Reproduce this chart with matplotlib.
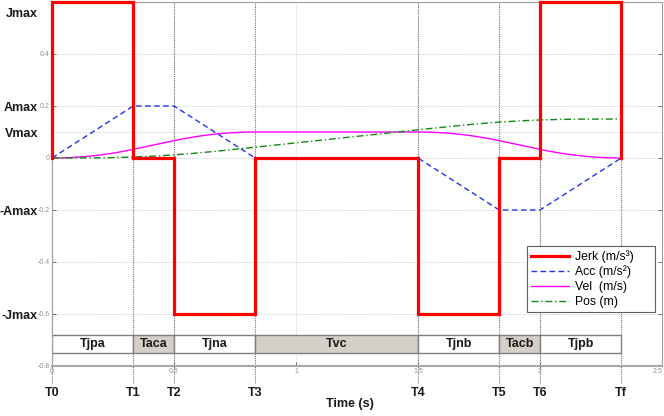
import matplotlib
matplotlib.use("Agg")
import matplotlib.pyplot as plt
from matplotlib.patches import Rectangle

plt.rcParams['font.family'] = ['Liberation Sans', 'DejaVu Sans']

# switching instants of the 7-segment S-curve profile
T_names = ['T0', 'T1', 'T2', 'T3', 'T4', 'T5', 'T6', 'Tf']
T_times = [0.0, 0.333, 0.5, 0.833, 1.5, 1.833, 2.0, 2.333]

# jerk held constant on each segment
jerk_levels = [0.6, 0.0, -0.6, 0.0, -0.6, 0.0, 0.6]

# acceleration at each switching instant (linear in between)
acc_at_T = [0.0, 0.2, 0.2, 0.0, 0.0, -0.2, -0.2, 0.0]

# velocity samples
vel_t = [0.0, 0.042, 0.083, 0.125, 0.167, 0.208, 0.25, 0.292, 0.333,
         0.5, 0.542, 0.583, 0.625, 0.667, 0.708, 0.75, 0.792, 0.833,
         1.5, 1.542, 1.583, 1.625, 1.667, 1.708, 1.75, 1.792, 1.833,
         2.0, 2.042, 2.083, 2.125, 2.167, 2.208, 2.25, 2.292, 2.333]
vel_v = [0.0, 0.0005, 0.0021, 0.0047, 0.0083, 0.013, 0.0188, 0.0255, 0.0333,
         0.0667, 0.0745, 0.0812, 0.087, 0.0917, 0.0953, 0.0979, 0.0995, 0.1,
         0.1, 0.0995, 0.0979, 0.0953, 0.0917, 0.087, 0.0812, 0.0745, 0.0667,
         0.0333, 0.0255, 0.0188, 0.013, 0.0083, 0.0047, 0.0021, 0.0005, 0.0]

# position samples
pos_t = [0.0, 0.083, 0.167, 0.25, 0.333, 0.417, 0.5, 0.583, 0.667, 0.75, 0.833,
         1.0, 1.167, 1.333, 1.5, 1.583, 1.667, 1.75, 1.833, 1.917, 2.0,
         2.083, 2.167, 2.25, 2.333]
pos_p = [0.0, 0.0001, 0.0005, 0.0016, 0.0037, 0.0072, 0.012, 0.0182, 0.0254, 0.0334, 0.0417,
         0.0583, 0.075, 0.0917, 0.1083, 0.1166, 0.1246, 0.1318, 0.138, 0.1428, 0.1463,
         0.1484, 0.1495, 0.1499, 0.15]

phase_names = ['Tjpa', 'Taca', 'Tjna', 'Tvc', 'Tjnb', 'Tacb', 'Tjpb']
phase_shaded = [False, True, False, True, False, True, False]

level_names = ['Jmax', 'Amax', 'Vmax', '-Amax', '-Jmax']
level_values = [0.6, 0.2, 0.1, -0.2, -0.6]

y_ticks = [-0.8, -0.6, -0.4, -0.2, 0.0, 0.2, 0.4]
y_ticklabels = ['-0.8', '-0.6', '-0.4', '-0.2', '0', '0.2', '0.4']
x_ticks = [0, 0.5, 1, 1.5, 2, 2.5]
x_ticklabels = ['0', '0.5', '1', '1.5', '2', '2.5']

fig = plt.figure(figsize=(6.64, 4.16), dpi=100)
ax = fig.add_axes([52 / 664, 50 / 416, 610 / 664, 364 / 416])
ax.set_xlim(0, 2.5)
ax.set_ylim(-0.8, 0.6)

# grid
for yv in [-0.6, -0.4, -0.2, 0.0, 0.1, 0.2, 0.4]:
    ax.axhline(yv, color='#bdbdbd', lw=0.6, ls=(0, (1, 1.5)), zorder=0)
for xv in x_ticks:
    ax.axvline(xv, color='#c8c8c8', lw=0.6, ls=(0, (1, 1.5)), zorder=0)

# segment boundaries, running below the axes down to their labels
for name, t in zip(T_names, T_times):
    ax.plot([t, t], [0.6, -0.865], color='#707070', lw=0.8, ls=(0, (1, 1)),
            clip_on=False, zorder=1)
    ax.text(t, -0.905, name, ha='center', va='center', fontsize=9,
            fontweight='bold', color='#1a1a1a', clip_on=False)

# phase band
for i, name in enumerate(phase_names):
    t0, t1 = T_times[i], T_times[i + 1]
    face = '#d4d0c8' if phase_shaded[i] else 'white'
    ax.add_patch(Rectangle((t0, -0.75), t1 - t0, 0.07, facecolor=face,
                           edgecolor='#808080', lw=1.0, zorder=2))
    ax.text((t0 + t1) / 2, -0.715, name, ha='center', va='center',
            fontsize=9, fontweight='bold', color='#1a1a1a', zorder=3)

# jerk as a stepped line
jx, jy = [T_times[0]], [0.0]
for i, j in enumerate(jerk_levels):
    jx += [T_times[i], T_times[i + 1]]
    jy += [j, j]
jx.append(T_times[-1])
jy.append(0.0)

ax.plot(vel_t, vel_v, color='#ff00ff', lw=1.0, label='Vel  (m/s)', zorder=4)
ax.plot(pos_t, pos_p, color='#118811', lw=1.0, ls=(0, (5, 2, 1, 2)),
        label='Pos (m)', zorder=4)
ax.plot(T_times, acc_at_T, color='#2233ee', lw=1.0, ls=(0, (4, 2.5)),
        label='Acc (m/s²)', zorder=4)
ax.plot(jx, jy, color='#ff0000', lw=2.3, label='Jerk (m/s³)', zorder=5,
        solid_joinstyle='miter', clip_on=False)

handles, labels = ax.get_legend_handles_labels()
order = [3, 2, 0, 1]
leg = ax.legend([handles[k] for k in order], [labels[k] for k in order],
                loc='lower left', mode='expand',
                bbox_to_anchor=(475 / 610, 0.148, 128 / 610, 0.17),
                borderaxespad=0, fontsize=8.8, frameon=True, fancybox=False,
                framealpha=1, edgecolor='#606060', handlelength=3.1,
                labelspacing=0.22, borderpad=0.35, handletextpad=0.5)
leg.get_frame().set_linewidth(0.8)
leg.set_zorder(6)

# named levels left of the axis
ytrans = ax.get_yaxis_transform()
for name, v in zip(level_names, level_values):
    yv = v - 0.045 if v == 0.6 else v - 0.008
    ax.text(-0.023, yv, name, transform=ytrans, ha='right', va='center',
            fontsize=9, fontweight='bold', color='#1a1a1a', clip_on=False)

ax.set_yticks(y_ticks)
ax.set_yticklabels(y_ticklabels)
ax.set_xticks(x_ticks)
ax.set_xticklabels(x_ticklabels)
ax.tick_params(axis='both', direction='in', length=3, width=0.6,
               colors='#606060', labelsize=5, labelcolor='#909090', pad=1.5)
ax.tick_params(axis='y', right=True)
ax.get_xticklabels()[-1].set_horizontalalignment('right')

for side in ['top', 'right', 'left']:
    ax.spines[side].set_color('#a0a0a0')
    ax.spines[side].set_linewidth(0.8)
ax.spines['bottom'].set_color('#a8a8a8')
ax.spines['bottom'].set_linewidth(1.5)

ax.text(1.22, -0.945, 'Time (s)', ha='center', va='center', fontsize=9,
        fontweight='bold', color='#1a1a1a', clip_on=False)

fig.savefig('out.png', dpi=100)
